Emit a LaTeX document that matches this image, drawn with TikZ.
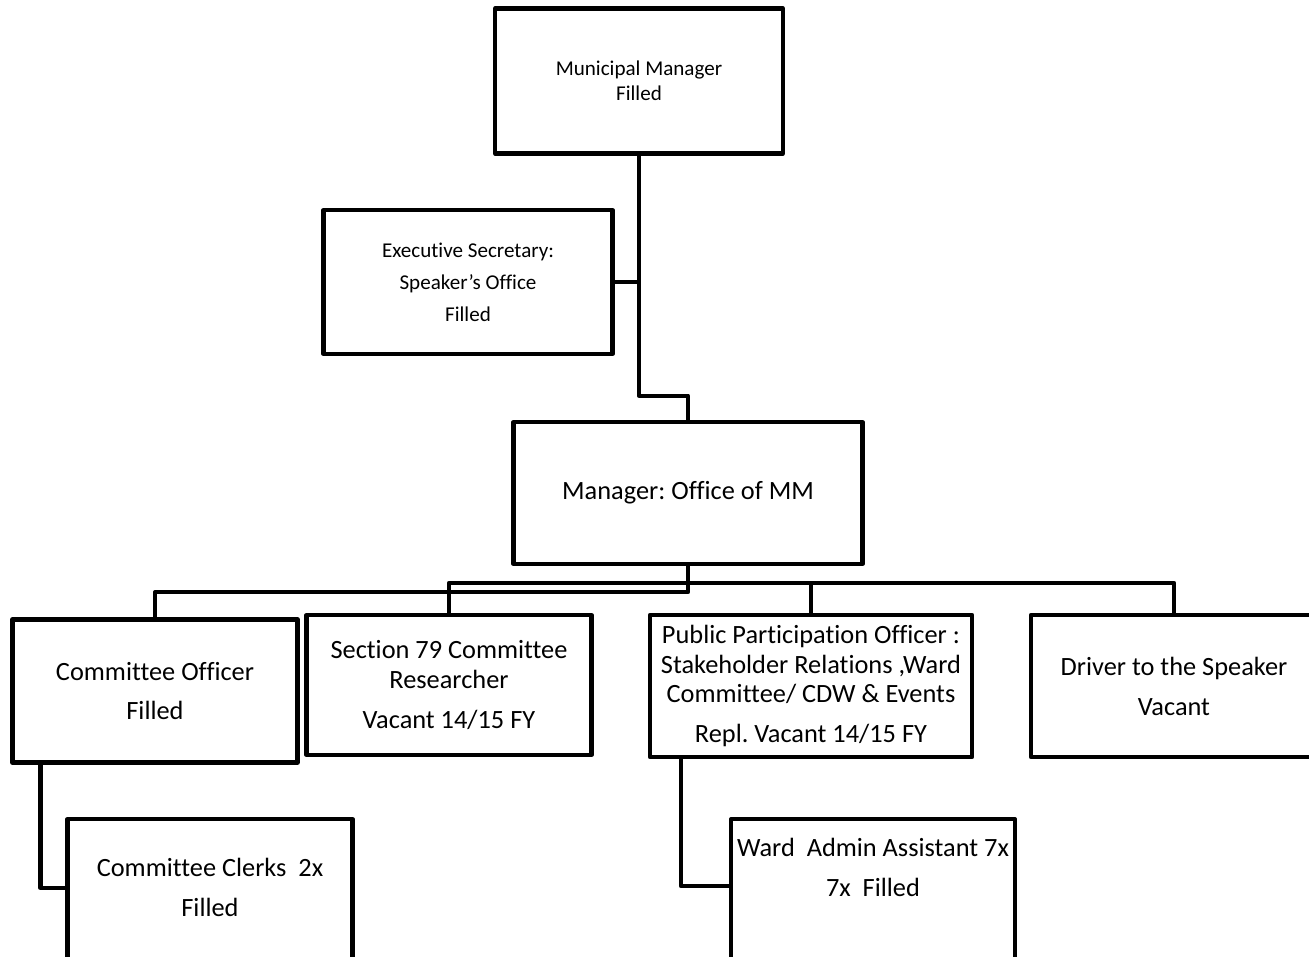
\documentclass[tikz,border=0pt]{standalone}
\usepackage{fontspec}
\setmainfont{Carlito}[Ligatures=CommonOff]
\frenchspacing
\newcommand\pxu{0.02cm}
\newcommand\bigtxt{\fontsize{15}{16.7}\selectfont}
\newcommand\smalltxt{\fontsize{12}{14.2}\selectfont}

\tikzset{
  post/.style={draw, line width=2.4pt, line join=round, align=center, inner sep=0pt, font=\bigtxt},
  dims/.style 2 args={minimum width=#1*\pxu, minimum height=#2*\pxu},
  link/.style={line width=2.4pt, line join=round},
  note/.style={anchor=center, align=center, font=\bigtxt, yshift=-#1*\pxu},
}

\begin{document}
\begin{tikzpicture}[x=\pxu, y=-\pxu]
  \clip (0,0) rectangle (1309,957); % page is 1309 x 957 px
  % top of the tree
  \node[post, dims={288}{145}, font=\smalltxt] (mm) at (639,81) {Municipal Manager\\Filled};
  \node[post, dims={289}{144}, font=\smalltxt] (exec) at (468,282) {Executive Secretary:\\[4pt]Speaker’s Office\\[4pt]Filled};
  \node[post, dims={349}{142}] (mgr) at (688,493) {Manager: Office of MM};
  % second row
  \node[post, dims={285}{143}] (co) at (155,691) {Committee Officer\\[6pt]Filled};
  \node[post, dims={285}{140}] (s79) at (449,685) {Section 79 Committee\\Researcher\\[6pt]Vacant 14/15 FY};
  \node[post, dims={322}{142}] (ppo) at (811,686) {Public Participation Officer :\\Stakeholder Relations ,Ward\\Committee/ CDW \& Events\\[6pt]Repl. Vacant 14/15 FY};
  \node[post, dims={286}{142}] (drv) at (1174,686) {Driver to the Speaker\\[6pt]Vacant};
  % bottom row, runs off the page
  \node[post, dims={285}{200}, anchor=north, label={[note=70]north:Committee Clerks\ \ 2x\\[6pt]Filled}] (clerks) at (210,817) {};
  \node[post, dims={284}{200}, anchor=north, label={[note=50]north:Ward\ \ Admin Assistant 7x\\[6pt]7x\ \ Filled}] (ward) at (873,817) {};

  % connectors
  \draw[link] (mm.south) -- ++(0,240) -| (mgr.north);
  \draw[link] (exec.east) -- (exec.east -| mm.south);
  \draw[link] (mgr.south) -- ++(0,26) -| (co.north);
  \draw[link] (s79.north) -- ++(0,-30) -| (drv.north);
  \draw[link] (ppo.north) -- ++(0,-29);
  \draw[link] (co.south west) ++(30,0) |- ([yshift=-71*\pxu]clerks.north west);
  \draw[link] (ppo.south west) ++(33,0) |- ([yshift=-69*\pxu]ward.north west);
\end{tikzpicture}
\end{document}
